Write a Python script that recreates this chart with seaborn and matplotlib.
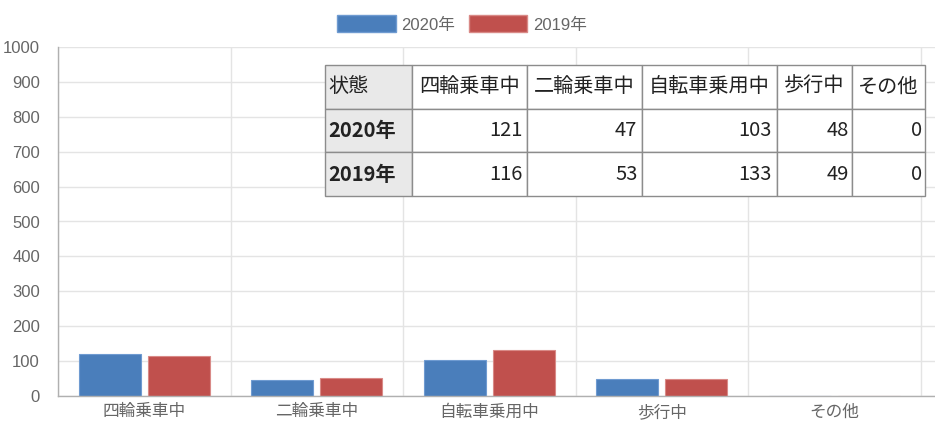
import matplotlib
matplotlib.use("Agg")
import matplotlib.pyplot as plt
from matplotlib.patches import Patch
import pandas as pd
import seaborn as sns

# --- data -----------------------------------------------------------------
categories = ["四輪乗車中", "二輪乗車中", "自転車乗用中", "歩行中", "その他"]
values_2020 = [121, 47, 103, 48, 0]
values_2019 = [116, 53, 133, 49, 0]
series_labels = ["2020年", "2019年"]
header_label = "状態"
y_ticks = [0, 100, 200, 300, 400, 500, 600, 700, 800, 900, 1000]

colors = {"2020年": "#4a7ebb", "2019年": "#c0504d"}
edge_colors = {"2020年": "#6f9bd1", "2019年": "#d98a87"}

df = pd.DataFrame({
    "状態": categories * 2,
    "件数": values_2020 + values_2019,
    "年": [series_labels[0]] * len(categories) + [series_labels[1]] * len(categories),
})

# --- style ----------------------------------------------------------------
sns.set_theme(style="white")
plt.rcParams["font.family"] = ["Liberation Sans", "Noto Sans CJK JP", "DejaVu Sans"]

fig = plt.figure(figsize=(9.35, 4.23), dpi=100)
W, H = 935, 423
left, right, top, bottom = 58, 935, 47, 396
ax = fig.add_axes([left / W, 1 - bottom / H, (right - left) / W, (bottom - top) / H])

sns.barplot(data=df, x="状態", y="件数", hue="年", palette=colors,
            order=categories, hue_order=series_labels,
            width=0.8, gap=0.1, ax=ax, legend=False, saturation=1)
for container, lab in zip(ax.containers, series_labels):
    for bar in container:
        bar.set_edgecolor(edge_colors[lab])
        bar.set_linewidth(0.8)

n = len(categories)
cat_px = 172.5
ax.set_xlim(-0.5, -0.5 + (right - left) / cat_px)
ax.set_ylim(0, 1000)
ax.set_yticks(y_ticks)
ax.set_xlabel("")
ax.set_ylabel("")

grid_c = "#e4e4e4"
ax.grid(False)
ax.yaxis.grid(True, color=grid_c, linewidth=1)
ax.set_axisbelow(True)

# category separators, extended below the axis as tick marks
ax.set_xticks([i + 0.5 for i in range(-1, n)], minor=True)
ax.xaxis.grid(True, which="minor", color=grid_c, linewidth=1)
ax.tick_params(axis="x", which="minor", length=12, color=grid_c, width=1, direction="out")
ax.tick_params(axis="x", which="major", length=0, pad=6, labelsize=12, labelcolor="#666666")
ax.tick_params(axis="y", which="major", length=8, color=grid_c, width=1, direction="out",
               pad=5, labelsize=12, labelcolor="#666666")

for s in ["top", "right"]:
    ax.spines[s].set_visible(False)
ax.spines["left"].set_color("#b0b0b0")
ax.spines["bottom"].set_color("#b0b0b0")
ax.spines["left"].set_linewidth(1)
ax.spines["bottom"].set_linewidth(1)

# --- legend ---------------------------------------------------------------
handles = [Patch(facecolor=colors[s], edgecolor=edge_colors[s], label=s) for s in series_labels]
fig.legend(handles=handles, loc="center", bbox_to_anchor=(462 / W, 1 - 24 / H), ncol=2,
           frameon=False, fontsize=12, handlelength=3.5, handleheight=1.2,
           handletextpad=0.35, columnspacing=0.8, labelcolor="#666666")

# --- data table -----------------------------------------------------------
cell_text = [[header_label] + categories]
for lab, vals in zip(series_labels, [values_2020, values_2019]):
    cell_text.append([lab] + [str(v) for v in vals])

col_px = [87, 115, 115, 135, 75, 73]
tot = sum(col_px)
tx0, tx1, ty0, ty1 = 325, 925, 65, 196
bbox = [(tx0 - left) / (right - left), (bottom - ty1) / (bottom - top),
        (tx1 - tx0) / (right - left), (ty1 - ty0) / (bottom - top)]
tbl = ax.table(cellText=cell_text, colWidths=[c / tot for c in col_px], bbox=bbox,
               cellLoc="right")
tbl.auto_set_font_size(False)
tbl.set_zorder(5)
for (r, c), cell in tbl.get_celld().items():
    cell.set_edgecolor("#8c8c8c")
    cell.set_linewidth(1)
    cell.PAD = 0.04
    txt = cell.get_text()
    txt.set_fontsize(14.5)
    txt.set_fontfamily(["Noto Sans CJK JP", "DejaVu Sans"])
    txt.set_color("#222222")
    if c == 0:
        cell.set_facecolor("#e9e9e9")
        txt.set_ha("left")
        cell._loc = "left"
        if r > 0:
            txt.set_fontweight("bold")
    else:
        cell.set_facecolor("white")
        if r == 0:
            txt.set_ha("center")
            cell._loc = "center"

fig.savefig("out.png", dpi=100)
